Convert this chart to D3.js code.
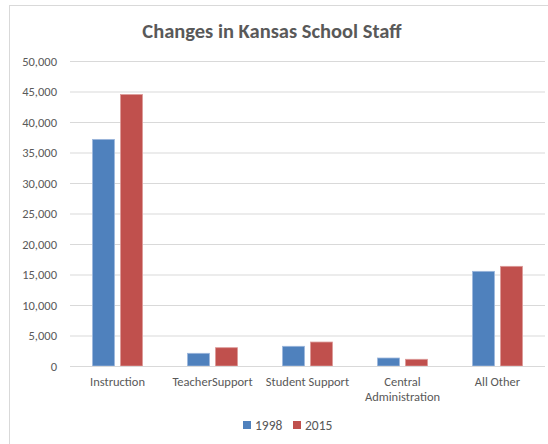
<!DOCTYPE html>
<html>
<head>
<meta charset="utf-8">
<script src="https://cdn.jsdelivr.net/npm/d3@7"></script>
<style>
  body { margin: 0; background: #fff; }
  svg { font-family: Carlito, Lato, "Open Sans", sans-serif; }
</style>
</head>
<body>
<svg id="chart"></svg>
<script>
// data
var categories = ["Instruction", "TeacherSupport", "Student Support", "Central Administration", "All Other"]
var categoryLines = [["Instruction"], ["TeacherSupport"], ["Student Support"], ["Central", "Administration"], ["All Other"]]
var seriesNames = ["1998", "2015"]
var values1998 = [37150, 2080, 3230, 1310, 15520]
var values2015 = [44500, 3000, 3930, 1100, 16340]
var yTicks = [0, 5000, 10000, 15000, 20000, 25000, 30000, 35000, 40000, 45000, 50000]
var colors = ["#4f81bd", "#c0504d"]

var width = 548, height = 444
var plot = { left: 70, right: 545, top: 61, bottom: 366 }

var svg = d3.select("#chart").attr("width", width).attr("height", height)

// chart frame (runs off the right / bottom of the picture)
svg.append("rect")
  .attr("x", 9.5).attr("y", 5.5)
  .attr("width", 560).attr("height", 460)
  .attr("fill", "#fff")
  .attr("stroke", "#d9d9d9")

svg.append("text")
  .attr("x", 272).attr("y", 38)
  .attr("text-anchor", "middle")
  .attr("font-size", 20.5).attr("font-weight", "bold")
  .attr("fill", "#595959")
  .text("Changes in Kansas School Staff")

var x0 = d3.scaleBand().domain(categories).range([plot.left, plot.right]).padding(0)
var x1 = d3.scaleBand().domain(seriesNames)
  .range([(x0.bandwidth() - 50) / 2, (x0.bandwidth() + 50) / 2])
  .paddingInner(0.214).paddingOuter(0)
var y = d3.scaleLinear().domain([0, 50000]).range([plot.bottom, plot.top])

// gridlines + y labels
var yAxis = svg.append("g")
  .attr("transform", "translate(" + plot.left + ",0)")
  .call(d3.axisLeft(y).tickValues(yTicks).tickSize(-(plot.right - plot.left)).tickPadding(13)
    .tickFormat(d3.format(",")))
yAxis.select(".domain").remove()
yAxis.selectAll(".tick line").attr("stroke", "#d9d9d9")
yAxis.selectAll(".tick text")
  .attr("fill", "#595959").attr("font-size", 12.5)
  .attr("font-family", "Carlito, Lato, 'Open Sans', sans-serif")

// bars
var table = categories.map(function(c, i) {
  return { name: c, vals: [values1998[i], values2015[i]] }
})

svg.append("g").selectAll("g")
  .data(table)
  .enter().append("g")
  .attr("transform", function(d) { return "translate(" + x0(d.name) + ",0)" })
  .selectAll("rect")
  .data(function(d) { return d.vals.map(function(v, i) { return { s: seriesNames[i], v: v, i: i } }) })
  .enter().append("rect")
  .attr("x", function(d) { return x1(d.s) })
  .attr("y", function(d) { return y(d.v) })
  .attr("width", x1.bandwidth())
  .attr("height", function(d) { return y(0) - y(d.v) })
  .attr("fill", function(d) { return colors[d.i] })
  .attr("stroke", function(d) { return d.i == 0 ? "#9db7dc" : "#dc9a98" })
  .attr("stroke-width", 0.8)

// x axis line
svg.append("line")
  .attr("x1", plot.left).attr("x2", plot.right)
  .attr("y1", y(0) + 0.5).attr("y2", y(0) + 0.5)
  .attr("stroke", "#d9d9d9")

// category labels
var xl = svg.append("g")
categories.forEach(function(c, i) {
  var t = xl.append("text")
    .attr("x", x0(c) + x0.bandwidth() / 2)
    .attr("y", 386)
    .attr("text-anchor", "middle")
    .attr("font-size", 12.5).attr("fill", "#595959")
  categoryLines[i].forEach(function(line, j) {
    t.append("tspan").attr("x", x0(c) + x0.bandwidth() / 2).attr("dy", j == 0 ? 0 : 15).text(line)
  })
})

// legend
var legendX = [243, 293]
var legend = svg.append("g")
seriesNames.forEach(function(s, i) {
  legend.append("rect")
    .attr("x", legendX[i]).attr("y", 421)
    .attr("width", 8).attr("height", 8)
    .attr("fill", colors[i])
  legend.append("text")
    .attr("x", legendX[i] + 12).attr("y", 429.5)
    .attr("font-size", 13.5).attr("fill", "#595959")
    .text(s)
})
</script>
</body>
</html>
